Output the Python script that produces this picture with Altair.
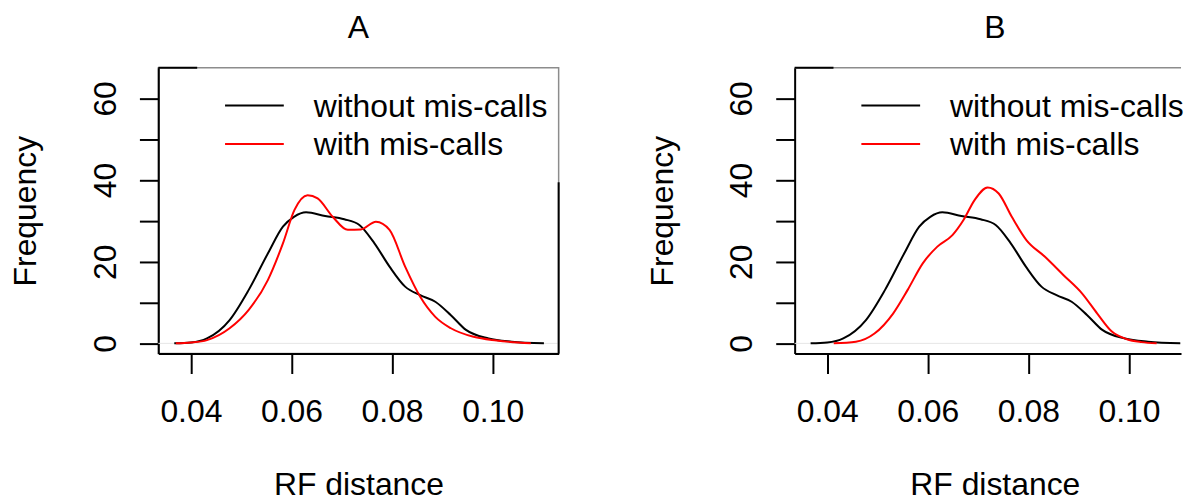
import altair as alt
import pandas as pd

FONT = "Liberation Sans"
FS = 32
W, H = 402, 287
WB = 388  # panel B is cut by the right edge of the picture
XDOM = [0.033525, 0.113125]
XDOM_B = [0.033525, 0.033525 + (XDOM[1] - XDOM[0]) * WB / W]
YDOM = [-2.5, 67.5]

series_names = ["without mis-calls", "with mis-calls"]
series_colors = ["#000000", "#ff0000"]
panel_titles = ["A", "B"]
x_ticks = [0.04, 0.06, 0.08, 0.10]
y_ticks = [0, 10, 20, 30, 40, 50, 60]

# density without mis-calls (same in both panels)
black_x = [0.0367, 0.0400, 0.0432, 0.0477, 0.0515, 0.0553, 0.0583, 0.0605, 0.0629,
           0.0667, 0.0705, 0.0735, 0.0765, 0.0795, 0.0826, 0.0856, 0.0886, 0.0917,
           0.0947, 0.0992, 0.1038, 0.1102]
black_y = [0.0, 0.2, 1.2, 5.7, 13.1, 22.0, 28.6, 31.0, 32.1,
           31.2, 30.4, 29.0, 24.5, 18.8, 13.9, 11.8, 10.2, 6.9,
           3.3, 1.2, 0.4, 0.0]

# density with mis-calls, panel A
red_a_x = [0.0370, 0.0400, 0.0432, 0.0477, 0.0515, 0.0553, 0.0583, 0.0606, 0.0632,
           0.0652, 0.0682, 0.0712, 0.0738, 0.0768, 0.0795, 0.0826, 0.0856, 0.0886,
           0.0917, 0.0962, 0.1008, 0.1076]
red_a_y = [0.0, 0.2, 0.8, 3.7, 8.2, 15.5, 24.5, 32.7, 36.3,
           35.5, 31.0, 27.8, 27.9, 29.8, 27.8, 18.8, 11.4, 6.5,
           3.7, 1.6, 0.7, 0.0]

# density with mis-calls, panel B
red_b_x = [0.0413, 0.0457, 0.0494, 0.0531, 0.0560, 0.0590, 0.0619, 0.0649, 0.0671,
           0.0693, 0.0719, 0.0741, 0.0767, 0.0796, 0.0833, 0.0870, 0.0907, 0.0937,
           0.0966, 0.0996, 0.1025, 0.1055]
red_b_y = [0.0, 0.4, 2.4, 7.3, 13.1, 19.6, 23.7, 26.5, 30.2,
           35.1, 38.2, 36.7, 31.0, 25.3, 21.2, 16.7, 12.2, 7.3,
           2.9, 1.0, 0.3, 0.0]


def panel(title, red_x, red_y, is_a):
    w = W if is_a else WB
    df = pd.concat([
        pd.DataFrame({"x": black_x, "y": black_y, "series": series_names[0]}),
        pd.DataFrame({"x": red_x, "y": red_y, "series": series_names[1]}),
    ], ignore_index=True)

    xscale = alt.Scale(domain=XDOM if is_a else XDOM_B, nice=False, zero=False)
    yscale = alt.Scale(domain=YDOM, nice=False, zero=False)

    xaxis = alt.Axis(values=x_ticks, format=".2f", tickSize=20, labelPadding=23,
                     titlePadding=43, grid=False, titleX=W / 2)
    yaxis = alt.Axis(values=y_ticks, labelExpr="datum.value % 20 == 0 ? datum.label : ''",
                     tickSize=19, labelAngle=270, labelPadding=17, titlePadding=47,
                     grid=False)

    lines = alt.Chart(df).mark_line(strokeWidth=2, interpolate="monotone").encode(
        x=alt.X("x:Q", scale=xscale, axis=xaxis, title="RF distance"),
        y=alt.Y("y:Q", scale=yscale, axis=yaxis, title="Frequency"),
        color=alt.Color("series:N", scale=alt.Scale(domain=series_names, range=series_colors),
                        legend=None),
    )

    zero = alt.Chart(pd.DataFrame({"y": [0]})).mark_rule(color="#e6e6e6", strokeWidth=1).encode(
        y=alt.Y("y:Q", scale=yscale), x=alt.value(0), x2=alt.value(w)
    )

    layers = [zero, lines]
    leg_y = [39, 77.5]
    for i, name in enumerate(series_names):
        one = pd.DataFrame({"s": [name]})
        layers.append(alt.Chart(one).mark_rule(strokeWidth=2, color=series_colors[i]).encode(
            x=alt.value(67), x2=alt.value(126), y=alt.value(leg_y[i] - 1)))
        layers.append(alt.Chart(one).mark_text(align="left", baseline="middle", fontSize=FS,
                                               font=FONT, color="black").encode(
            x=alt.value(156), y=alt.value(leg_y[i]), text="s:N"))

    seg = pd.DataFrame({"k": [1]})
    if not is_a:
        layers.append(alt.Chart(seg).mark_rule(color="#8c8c8c", strokeWidth=1.5).encode(
            x=alt.value(0), x2=alt.value(w), y=alt.value(0)))
    layers.append(alt.Chart(seg).mark_rule(color="black", strokeWidth=2).encode(
        x=alt.value(0), x2=alt.value(39), y=alt.value(0)))
    if is_a:
        layers.append(alt.Chart(seg).mark_rule(color="black", strokeWidth=2).encode(
            x=alt.value(W), y=alt.value(115), y2=alt.value(H)))

    props = dict(
        width=w, height=H,
        title=alt.TitleParams(title, fontSize=FS, fontWeight="normal", font=FONT,
                              color="black", anchor="middle", offset=22,
                              dx=(W - w) / 2),
    )
    if not is_a:
        props["view"] = alt.ViewBackground(stroke="transparent")
    return alt.layer(*layers).properties(**props)


pa = panel(panel_titles[0], red_a_x, red_a_y, True)
pb = panel(panel_titles[1], red_b_x, red_b_y, False)

chart = alt.hconcat(pa, pb, spacing=85).properties(
    padding={"left": 9, "top": 10, "right": 0, "bottom": 0},
    background="white",
).configure_view(
    stroke="#8c8c8c", strokeWidth=1.5
).configure_axis(
    domainColor="black", domainWidth=2, tickColor="black", tickWidth=2,
    labelFont=FONT, labelFontSize=FS, labelColor="black",
    titleFont=FONT, titleFontSize=FS, titleFontWeight="normal", titleColor="black",
)

chart.save("out.html", embed_options={"renderer": "svg", "actions": False})
